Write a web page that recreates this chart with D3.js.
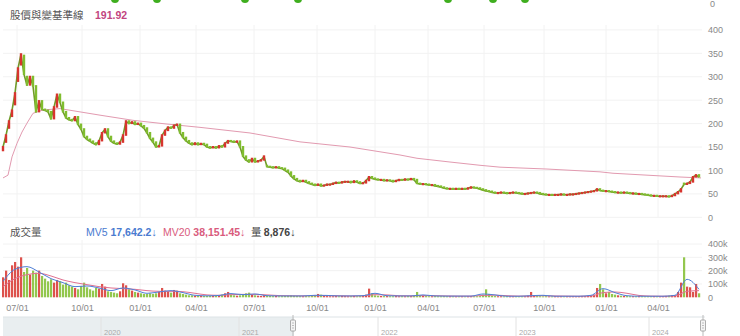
<!DOCTYPE html>
<html><head><meta charset="utf-8">
<script src="https://cdn.jsdelivr.net/npm/d3@7/dist/d3.min.js"></script>
<style>
html,body{margin:0;padding:0;background:#fff;}
svg{display:block;font-family:"Liberation Sans",Arial,"Noto Sans CJK TC",sans-serif;}
</style></head>
<body><svg id="c" width="740" height="336"></svg>
<script>
// ---- data ----
// one entry per 3 trading sessions
const opens = [
142,160,190,215,240,290,325,345,300,282,
300,280,225,248,230,228,225,210,235,262,
245,225,212,208,206,214,198,188,172,166,
162,158,155,163,180,188,172,162,158,156,
160,175,205,200,203,198,200,195,190,180,
168,160,150,152,175,185,192,190,196,198,
180,170,163,158,155,158,155,157,155,150,
148,150,148,152,150,158,163,162,160,162,
150,130,122,118,125,118,120,122,110,108,
107,106,107,105,104,100,96,88,82,78,
76,78,75,72,70,68,70,67,68,70,
70,72,74,73,75,76,76,74,77,75,
72,73,78,86,83,81,80,80,78,79,
78,76,78,80,79,81,80,82,80,72,
71,71,70,69,69,67,66,64,62,61,
61,60,61,60,61,60,62,64,63,62,
60,58,56,55,53,52,52,53,52,51,
52,53,52,51,50,50,51,52,53,52,
50,49,48,48,47,48,48,49,48,48,
49,49,50,51,52,53,54,55,56,60,
57,56,56,55,54,53,53,52,53,52,
51,51,50,50,49,48,47,46,46,45,
45,45,45,44,46,50,54,72,70,72,
75,86,90];
const closes = [
150,175,205,228,265,318,348,305,282,300,
280,225,248,230,228,225,210,235,262,245,
225,212,208,206,214,198,188,172,166,162,
158,155,163,180,188,172,162,158,156,160,
175,205,200,203,198,200,195,190,180,168,
160,150,152,175,185,192,190,196,198,180,
170,163,158,155,158,155,157,155,150,148,
150,148,152,150,158,163,162,160,162,150,
130,122,118,125,118,120,122,130,108,107,
106,107,105,104,100,96,88,82,78,76,
78,75,72,70,68,70,67,68,70,70,
72,74,73,75,76,76,74,77,75,72,
73,78,86,83,81,80,80,78,79,78,
76,78,80,79,81,80,82,80,72,71,
71,70,69,69,67,66,64,62,61,61,
60,61,60,61,60,62,64,63,62,60,
58,56,55,53,52,52,53,52,51,52,
53,52,51,50,50,51,52,53,52,50,
49,48,48,47,48,48,49,48,48,49,
49,50,51,52,53,54,55,56,60,57,
56,56,55,54,53,53,52,53,52,51,
51,50,50,49,48,47,46,46,45,45,
45,45,44,46,50,54,60,70,72,75,
86,90,86];
// volume in thousands of shares
const volumes = [
150,200,130,240,265,230,300,190,220,170,
200,185,200,160,140,120,135,110,130,120,
95,110,90,80,70,60,85,110,75,60,
50,70,65,100,80,45,40,35,30,45,
105,90,60,50,40,35,30,25,25,30,
25,30,40,70,50,45,35,55,50,30,
25,20,15,15,12,12,12,10,10,10,
12,10,15,20,30,40,20,15,12,15,
20,30,35,20,15,12,10,15,12,10,
9,10,8,9,10,12,15,12,10,9,
8,9,8,10,12,25,20,12,9,8,
8,9,8,10,9,8,9,10,8,9,
12,20,65,30,15,12,10,9,9,8,
8,9,8,9,8,10,9,10,40,15,
10,9,8,8,9,8,8,9,8,8,
8,7,8,8,7,8,9,8,8,9,
20,60,25,12,9,8,8,7,8,7,
7,8,7,8,8,12,40,15,9,8,
7,8,7,7,8,7,8,7,8,7,
8,8,9,10,9,10,12,20,70,100,
60,30,40,25,20,15,12,10,9,8,
8,7,8,8,7,8,8,9,8,8,
9,10,12,15,15,40,110,300,80,75,
40,100,30];
// one entry per 12 sessions
const mv5 = [120,210,230,190,140,110,80,85,70,50,
70,55,30,40,50,35,15,11,14,28,
20,25,12,10,10,10,15,14,10,10,
12,30,12,10,10,18,10,9,9,9,
25,18,8,8,12,15,8,8,8,15,
65,35,12,8,8,8,15,135,60];
const mv20 = [80,140,170,180,160,130,110,95,80,70,
65,60,50,45,45,42,30,18,15,20,
22,22,18,13,11,11,12,13,12,10,
11,20,18,12,11,13,12,10,9,9,
14,16,12,9,10,12,10,9,8,10,
35,40,30,14,9,8,10,45,50];
// baseline line
const baseSessions = [0,5,9,14,19,24,30,40,57,97,130,164,197,247,297,347,397,414,447,477,497,544,597,610,677,698];
const baseValues = [84,90,129,158,182,201,222,229,232,218,207,199,192,180,161,150,133,126,118,111,107,103,97,94,86,84];
// x axis ticks (session index of each quarter start)
const tickSessions = [14,79,137,193,251,314,372,425,481,541,603,655];
const tickLabels = ["07/01","10/01","01/01","04/01","07/01","10/01","01/01","04/01","07/01","10/01","01/01","04/01"];
const priceTicks = [0,50,100,150,200,250,300,350,400];
const volTicks = [0,100,200,300,400];
const volTickLabels = ["0","100k","200k","300k","400k"];
const navYears = ["2020","2021","2022","2023","2024"];
const navYearX = [101,239,378,516,649];
const topDotX = [115,157,245,298,448,493,525];

// ---- drawing ----
const svg = d3.select("#c");
const RED = "#d7342e", GREEN = "#80bd2f", GRID = "#f2f2f2";
const x = d3.scaleLinear().domain([0, 698]).range([3, 701]);
const yP = d3.scaleLinear().domain([0, 400]).range([217.3, 29.9]);
const yV = d3.scaleLinear().domain([0, 400]).range([297.3, 244]);
const per = 3;

// top decoration (cut-off row from chart above)
svg.selectAll(".dot").data(topDotX).join("circle")
  .attr("cx", d => d).attr("cy", -1).attr("r", 4).attr("fill", "#3fae1f");
svg.append("text").attr("x", 710).attr("y", 7).attr("font-size", 9).attr("fill", "#888").text("0");

// grids
const gMain = svg.append("g");
gMain.selectAll(".hg").data(priceTicks).join("line")
  .attr("x1", 3).attr("x2", 702).attr("y1", d => yP(d)).attr("y2", d => yP(d))
  .attr("stroke", GRID).attr("stroke-width", 1);
gMain.selectAll(".vg").data(tickSessions).join("line")
  .attr("x1", d => x(d)).attr("x2", d => x(d)).attr("y1", 25).attr("y2", 217)
  .attr("stroke", GRID);
gMain.selectAll(".vg2").data(tickSessions).join("line")
  .attr("x1", d => x(d)).attr("x2", d => x(d)).attr("y1", 240).attr("y2", 297)
  .attr("stroke", GRID);
gMain.selectAll(".hg2").data(volTicks.slice(1)).join("line")
  .attr("x1", 3).attr("x2", 702).attr("y1", d => yV(d)).attr("y2", d => yV(d))
  .attr("stroke", GRID);

// titles
svg.append("text").attr("x", 10).attr("y", 19).attr("font-size", 10.5).attr("fill", "#555")
  .attr("font-family", "Noto Sans CJK TC").text("股價與變基準線");
svg.append("text").attr("x", 95).attr("y", 19).attr("font-size", 10.5).attr("fill", "#c2457f")
  .attr("font-weight", 600).text("191.92");

// baseline
svg.append("path")
  .datum(baseSessions.map((s, i) => [s, baseValues[i]]))
  .attr("fill", "none").attr("stroke", "#e29ab0").attr("stroke-width", 1)
  .attr("d", d3.line().x(d => x(d[0])).y(d => yP(d[1])));

// candles
const cData = closes.map((c, i) => ({s: i * per, o: opens[i], c: c, v: volumes[i]}));
svg.append("path").datum(cData)
  .attr("fill", "none").attr("stroke", "#6f9a28").attr("stroke-width", 1.6).attr("stroke-linejoin", "round")
  .attr("d", d3.line().x(d => x(d.s)).y(d => yP(d.c)));
svg.append("g").selectAll("rect").data(cData).join("rect")
  .attr("x", d => x(d.s) - 1.2).attr("width", 2.4)
  .attr("y", d => Math.min(yP(d.o), yP(d.c)) - 1)
  .attr("height", d => Math.max(2.2, Math.abs(yP(d.o) - yP(d.c)) + 1.5))
  .attr("fill", d => d.c >= d.o ? RED : GREEN);

// price axis
const ay = svg.append("g").attr("transform", "translate(705,0)")
  .call(d3.axisRight(yP).tickValues(priceTicks).tickSize(0).tickPadding(3));
ay.select(".domain").remove();
ay.selectAll("text").attr("font-size", 9).attr("fill", "#888");

// volume header
svg.append("text").attr("x", 10).attr("y", 236).attr("font-size", 10.5).attr("fill", "#555")
  .attr("font-family", "Noto Sans CJK TC").text("成交量");
const t1 = svg.append("text").attr("x", 86).attr("y", 236).attr("font-size", 10.5).attr("fill", "#4a7bd0");
t1.append("tspan").text("MV5 ");
t1.append("tspan").attr("font-weight", 700).text("17,642.2");
t1.append("tspan").text("↓");
const t2 = svg.append("text").attr("x", 163).attr("y", 236).attr("font-size", 10.5).attr("fill", "#d95b7d");
t2.append("tspan").text("MV20 ");
t2.append("tspan").attr("font-weight", 700).text("38,151.45");
t2.append("tspan").text("↓");
const t3 = svg.append("text").attr("x", 251).attr("y", 236).attr("font-size", 10.5).attr("fill", "#444");
t3.append("tspan").attr("font-family", "Noto Sans CJK TC").text("量 ");
t3.append("tspan").attr("font-weight", 700).text("8,876");
t3.append("tspan").text("↓");

// volume bars
svg.append("g").selectAll("rect").data(cData).join("rect")
  .attr("x", d => x(d.s) - 1).attr("width", 2.2)
  .attr("y", d => yV(d.v)).attr("height", d => yV(0) - yV(d.v))
  .attr("fill", d => d.c >= d.o ? RED : GREEN).attr("opacity", 0.85);

// MV lines
const mvLine = d3.line().x((d, i) => x(i * 12)).y(d => yV(d)).curve(d3.curveMonotoneX);
svg.append("path").datum(mv20).attr("fill", "none").attr("stroke", "#e07090").attr("stroke-width", 1).attr("d", mvLine);
svg.append("path").datum(mv5).attr("fill", "none").attr("stroke", "#4f7fd6").attr("stroke-width", 1).attr("d", mvLine);

// volume axis
const av = svg.append("g").attr("transform", "translate(705,0)")
  .call(d3.axisRight(yV).tickValues(volTicks).tickFormat((d, i) => volTickLabels[i]).tickSize(0).tickPadding(3));
av.select(".domain").remove();
av.selectAll("text").attr("font-size", 9).attr("fill", "#888");

// x axis
const ax = svg.append("g").attr("transform", "translate(0,302)")
  .call(d3.axisBottom(x).tickValues(tickSessions).tickFormat((d, i) => tickLabels[i]).tickSize(0).tickPadding(3));
ax.select(".domain").remove();
ax.selectAll("text").attr("font-size", 9).attr("fill", "#888");

// navigator
svg.append("rect").attr("x", 3).attr("y", 317).attr("width", 291).attr("height", 20).attr("fill", "#e9eef0");
svg.append("line").attr("x1", 3).attr("x2", 705).attr("y1", 317).attr("y2", 317).attr("stroke", "#dde3e6");
svg.selectAll(".ny").data(navYearX).join("line")
  .attr("x1", d => d).attr("x2", d => d).attr("y1", 317).attr("y2", 336).attr("stroke", "#e2e2e2");
svg.selectAll(".nyt").data(navYears).join("text")
  .attr("x", (d, i) => navYearX[i] + 3).attr("y", 334.5).attr("font-size", 7.5).attr("fill", "#aaa").text(d => d);
[293, 703].forEach(hx => {
  svg.append("line").attr("x1", hx).attr("x2", hx).attr("y1", 315).attr("y2", 336).attr("stroke", "#bbb");
  svg.append("rect").attr("x", hx - 2.5).attr("y", 320).attr("width", 5).attr("height", 11).attr("rx", 1)
    .attr("fill", "#f4f4f4").attr("stroke", "#999").attr("stroke-width", 0.8);
  [323, 325.5, 328].forEach(yy => svg.append("line").attr("x1", hx - 1).attr("x2", hx + 1)
    .attr("y1", yy).attr("y2", yy).attr("stroke", "#999").attr("stroke-width", 0.6));
});
</script></body></html>
